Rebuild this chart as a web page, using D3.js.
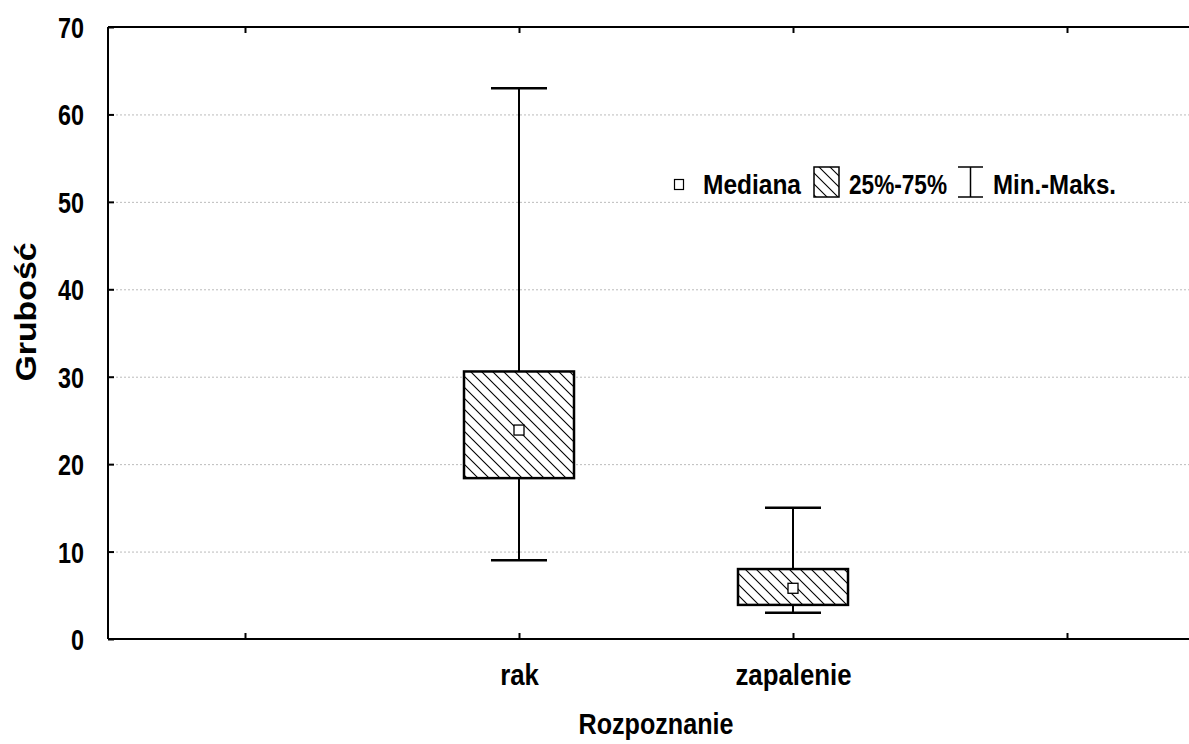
<!DOCTYPE html>
<html>
<head>
<meta charset="utf-8">
<script src="https://cdn.jsdelivr.net/npm/d3@7"></script>
<style>
body { margin: 0; background: #fff; }
svg text { font-family: "Liberation Sans", Arial, sans-serif; font-weight: bold; fill: #000; }
.grid line { stroke: #bbb; stroke-dasharray: 2,2; stroke-width: 1; }
</style>
</head>
<body>
<script>
// categories on the x axis (first and last slots are empty)
var slots = ['', 'rak', 'zapalenie', ' '];
var groups = ['rak', 'zapalenie'];
var mins = [9, 3];
var q1 = [18.4, 3.9];
var medians = [23.9, 5.8];
var q3 = [30.6, 8];
var maxs = [63, 15];
var yTicks = [0, 10, 20, 30, 40, 50, 60, 70];

var W = 1189, H = 744;
var m = {left: 108, top: 27, bottom: 105};
var plotW = 1096, plotH = H - m.top - m.bottom;

var svg = d3.select('body').append('svg').attr('width', W).attr('height', H);

// squeeze text to a narrow face (the reference uses a condensed font)
function narrow(sel, len) {
	sel.attr('lengthAdjust', 'spacingAndGlyphs').attr('textLength', len);
}

var defs = svg.append('defs');
var pat = defs.append('pattern').attr('id', 'hatch').attr('patternUnits', 'userSpaceOnUse').attr('width', 11).attr('height', 11);
pat.append('rect').attr('width', 11).attr('height', 11).attr('fill', '#fff');
pat.append('path').attr('d', 'M0,0L11,11M-3,8L3,14M8,-3L14,3').attr('stroke', '#000').attr('stroke-width', 1.1);

var x = d3.scalePoint().domain(slots).range([m.left, m.left + plotW]).padding(0.5);
var y = d3.scaleLinear().domain([0, 70]).range([m.top + plotH, m.top]);

// gridlines
svg.append('g').attr('class', 'grid').selectAll('line').data(yTicks.filter(function(d) { return d > 0 && d < 70; }))
	.enter().append('line')
	.attr('x1', m.left).attr('x2', m.left + plotW)
	.attr('y1', function(d) { return y(d) + 0.5; }).attr('y2', function(d) { return y(d) + 0.5; });

// frame
var frame = svg.append('g').attr('stroke', '#000').attr('stroke-width', 2).attr('fill', 'none');
frame.append('line').attr('x1', m.left).attr('x2', m.left).attr('y1', y(70)).attr('y2', y(0));
frame.append('line').attr('x1', m.left).attr('x2', m.left + plotW).attr('y1', y(70)).attr('y2', y(70));
frame.append('line').attr('x1', m.left).attr('x2', m.left + plotW).attr('y1', y(0)).attr('y2', y(0));

// y axis
var yAxis = d3.axisLeft(y).tickValues(yTicks).tickSize(-6).tickPadding(24);
var gy = svg.append('g').attr('transform', 'translate(' + m.left + ',0)').call(yAxis);
gy.select('.domain').remove();
gy.selectAll('.tick line').attr('stroke', '#000').attr('stroke-width', 2);
gy.selectAll('.tick text').attr('font-size', 29).attr('dy', '0.36em')
	.each(function(d) { narrow(d3.select(this), String(d).length * 13); });

// x axis (bottom) and top ticks
var xAxis = d3.axisBottom(x).tickSize(-6);
var gx = svg.append('g').attr('transform', 'translate(0,' + y(0) + ')').call(xAxis);
gx.select('.domain').remove();
gx.selectAll('.tick line').attr('stroke', '#000').attr('stroke-width', 2);
gx.selectAll('.tick text').attr('font-size', 29).attr('y', 46).attr('dy', 0)
	.each(function(d) { if (d.trim()) narrow(d3.select(this), d.length * 12.9); });
var gxt = svg.append('g').attr('transform', 'translate(0,' + y(70) + ')').call(d3.axisTop(x).tickSize(-6).tickFormat(''));
gxt.select('.domain').remove();
gxt.selectAll('.tick line').attr('stroke', '#000').attr('stroke-width', 2);

// boxes
var bw = 110, cap = 56;
var box = svg.append('g').selectAll('g').data(groups).enter().append('g');
box.append('line').attr('stroke', '#000').attr('stroke-width', 2)
	.attr('x1', function(d) { return x(d); }).attr('x2', function(d) { return x(d); })
	.attr('y1', function(d, i) { return y(mins[i]); }).attr('y2', function(d, i) { return y(maxs[i]); });
box.append('line').attr('stroke', '#000').attr('stroke-width', 2.5)
	.attr('x1', function(d) { return x(d) - cap / 2; }).attr('x2', function(d) { return x(d) + cap / 2; })
	.attr('y1', function(d, i) { return y(maxs[i]); }).attr('y2', function(d, i) { return y(maxs[i]); });
box.append('line').attr('stroke', '#000').attr('stroke-width', 2.5)
	.attr('x1', function(d) { return x(d) - cap / 2; }).attr('x2', function(d) { return x(d) + cap / 2; })
	.attr('y1', function(d, i) { return y(mins[i]); }).attr('y2', function(d, i) { return y(mins[i]); });
box.append('rect').attr('fill', 'url(#hatch)').attr('stroke', '#000').attr('stroke-width', 2.5)
	.attr('x', function(d) { return x(d) - bw / 2; }).attr('width', bw)
	.attr('y', function(d, i) { return y(q3[i]); })
	.attr('height', function(d, i) { return y(q1[i]) - y(q3[i]); });
box.append('rect').attr('fill', '#fff').attr('stroke', '#000').attr('stroke-width', 1.3)
	.attr('x', function(d) { return x(d) - 5; }).attr('width', 10)
	.attr('y', function(d, i) { return y(medians[i]) - 5; }).attr('height', 10);

// legend
var lg = svg.append('g').attr('transform', 'translate(0,184)');
lg.append('rect').attr('x', 674.5).attr('y', -4.5).attr('width', 9).attr('height', 10).attr('fill', '#fff').attr('stroke', '#000').attr('stroke-width', 1.2);
lg.append('text').attr('x', 703).attr('y', 10).attr('font-size', 27).text('Mediana').call(narrow, 98);
lg.append('rect').attr('x', 814).attr('y', -17).attr('width', 25).attr('height', 30).attr('fill', 'url(#hatch)').attr('stroke', '#000').attr('stroke-width', 1.5);
lg.append('text').attr('x', 849).attr('y', 10).attr('font-size', 27).text('25%-75%').call(narrow, 98);
var wk = lg.append('g').attr('stroke', '#000').attr('stroke-width', 1.5);
wk.append('line').attr('x1', 958).attr('x2', 983).attr('y1', -17).attr('y2', -17);
wk.append('line').attr('x1', 958).attr('x2', 983).attr('y1', 13).attr('y2', 13);
wk.append('line').attr('x1', 970.5).attr('x2', 970.5).attr('y1', -17).attr('y2', 13);
lg.append('text').attr('x', 993).attr('y', 10).attr('font-size', 27).text('Min.-Maks.').call(narrow, 123);

// axis titles
svg.append('text').attr('x', m.left + plotW / 2).attr('y', 734).attr('text-anchor', 'middle').attr('font-size', 29)
	.text('Rozpoznanie').call(narrow, 155);
svg.append('text').attr('transform', 'translate(36,312) rotate(-90)').attr('text-anchor', 'middle')
	.attr('font-size', 29).text('Grubość').call(narrow, 139);
</script>
</body>
</html>
